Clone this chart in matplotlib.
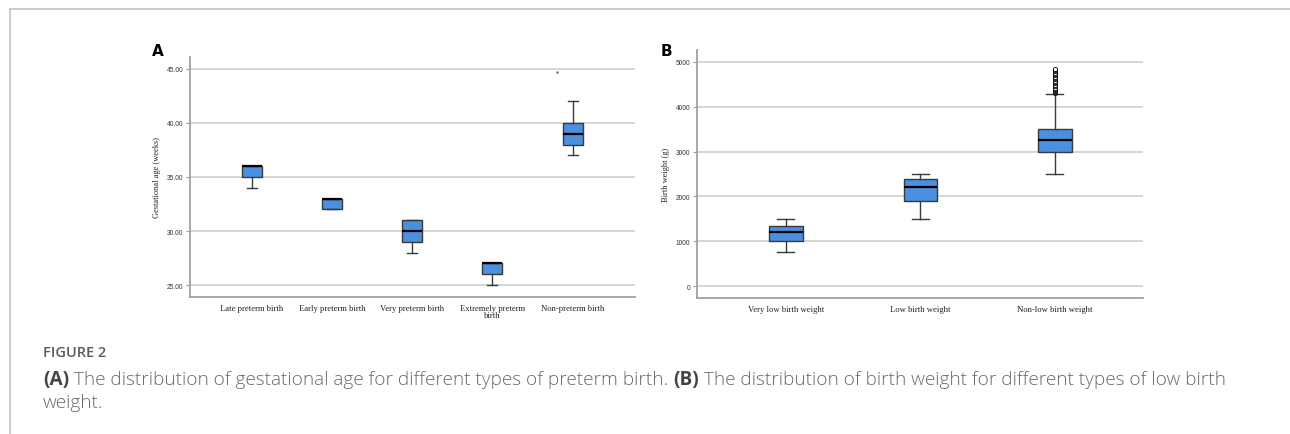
import matplotlib.pyplot as plt

# Panel A: gestational age (weeks)
ga_groups = ['Late preterm birth', 'Early preterm birth', 'Very preterm birth',
             'Extremely preterm\nbirth', 'Non-preterm birth']
ga_whislo = [34, 32, 28, 25, 37]
ga_q1 = [35, 32, 29, 26, 38]
ga_med = [36, 33, 30, 27, 39]
ga_q3 = [36, 33, 31, 27, 40]
ga_whishi = [36, 33, 31, 27, 42]
ga_stray = 44.7
ga_ticks = [25, 30, 35, 40, 45]

# Panel B: birth weight (g)
bw_groups = ['Very low birth weight', 'Low birth weight', 'Non-low birth weight']
bw_whislo = [750, 1500, 2500]
bw_q1 = [1000, 1900, 3000]
bw_med = [1200, 2200, 3250]
bw_q3 = [1350, 2380, 3510]
bw_whishi = [1500, 2500, 4290]
bw_fliers = [[], [], [4300, 4320, 4340, 4360, 4380, 4400, 4430, 4460, 4490, 4520,
                      4550, 4580, 4610, 4640, 4670, 4700, 4730, 4760, 4790, 4820, 4850]]
bw_ticks = [0, 1000, 2000, 3000, 4000, 5000]

BOX = '#4a8fe0'
EDGE = '#3a3a3a'
GRID = '#d2d2d2'
SPINE = '#a0a0a0'
SERIF = 'Liberation Serif'
SANS = 'Liberation Sans'


def make_stats(lo, q1, med, q3, hi, fliers=None):
    stats = []
    for i in range(len(lo)):
        stats.append({'whislo': lo[i], 'q1': q1[i], 'med': med[i], 'q3': q3[i],
                      'whishi': hi[i], 'fliers': fliers[i] if fliers else []})
    return stats


def style_axes(ax, ticks, fmt, labels, ylabel):
    ax.set_yticks(ticks)
    ax.set_yticklabels([fmt.format(t) for t in ticks], fontsize=4.8,
                       family=SANS, color='#333333')
    ax.set_xticks(range(len(labels)))
    ax.set_xticklabels(labels, fontsize=6.2, family=SERIF, color='#222222',
                       linespacing=0.9)
    ax.tick_params(axis='x', length=0, pad=5)
    ax.tick_params(axis='y', length=3, width=0.8, color=SPINE, pad=2)
    ax.yaxis.grid(True, color=GRID, linewidth=1.3)
    ax.set_axisbelow(True)
    for s in ['top', 'right']:
        ax.spines[s].set_visible(False)
    for s in ['left', 'bottom']:
        ax.spines[s].set_color(SPINE)
        ax.spines[s].set_linewidth(1.3)
    ax.set_ylabel(ylabel, fontsize=6, family=SERIF, color='#222222', labelpad=4)


def draw_boxes(ax, stats):
    ax.bxp(stats, positions=range(len(stats)), widths=0.25, capwidths=0.125,
           patch_artist=True, showfliers=True,
           boxprops=dict(facecolor=BOX, edgecolor=EDGE, linewidth=1.0),
           medianprops=dict(color='black', linewidth=1.6),
           whiskerprops=dict(color=EDGE, linewidth=1.0),
           capprops=dict(color=EDGE, linewidth=1.0),
           flierprops=dict(marker='o', markersize=3.0, markerfacecolor='white',
                           markeredgecolor='black', markeredgewidth=0.6))


fig = plt.figure(figsize=(12.9, 4.35), dpi=100)

# frame lines
fig.add_artist(plt.Line2D([10 / 1290, 10 / 1290], [0, 1 - 10 / 435],
                          transform=fig.transFigure, color='#c4c4c4', linewidth=1.2))
fig.add_artist(plt.Line2D([10 / 1290, 1], [1 - 10 / 435, 1 - 10 / 435],
                          transform=fig.transFigure, color='#c4c4c4', linewidth=1.2))

axA = fig.add_axes([190 / 1290, 1 - 298 / 435, 445 / 1290, 240 / 435])
draw_boxes(axA, make_stats(ga_whislo, ga_q1, ga_med, ga_q3, ga_whishi))
axA.scatter([len(ga_groups) - 1 - 0.19], [ga_stray], s=0.5, color='#666666')
axA.set_xlim(-0.775, 4.78)
axA.set_ylim(23.9, 46.1)
style_axes(axA, ga_ticks, '{:.2f}', ga_groups, 'Gestational age (weeks)')

axB = fig.add_axes([697 / 1290, 1 - 299 / 435, 446 / 1290, 248 / 435])
draw_boxes(axB, make_stats(bw_whislo, bw_q1, bw_med, bw_q3, bw_whishi, bw_fliers))
axB.set_xlim(-0.66, 2.655)
axB.set_ylim(-267, 5267)
style_axes(axB, bw_ticks, '{:d}', bw_groups, 'Birth weight (g)')

fig.text(158 / 1290, 1 - 52 / 435, 'A', fontsize=11, fontweight='bold',
         family='DejaVu Sans', ha='center', va='center')
fig.text(666 / 1290, 1 - 52 / 435, 'B', fontsize=11, fontweight='bold',
         family='DejaVu Sans', ha='center', va='center')

# caption
CAP = 13.7
fig.text(43 / 1290, 1 - 353 / 435, 'FIGURE 2', fontsize=10.5, family='Open Sans',
         fontweight='semibold', color='#5a5a5a', va='center')
cap_y1 = 1 - 380 / 435
line1 = [('(A)', True), (' The distribution of gestational age for different types of preterm birth. ', False),
         ('(B)', True), (' The distribution of birth weight for different types of low birth', False)]
fig.canvas.draw()
renderer = fig.canvas.get_renderer()
x = 43 / 1290
for txt, bold in line1:
    tt = fig.text(x, cap_y1, txt, fontsize=CAP, family='Open Sans',
                  fontweight='bold' if bold else 'light',
                  color='#444444' if bold else '#6a6a6a', va='center')
    bb = tt.get_window_extent(renderer=renderer)
    x += bb.width / fig.bbox.width
fig.text(43 / 1290, 1 - 403 / 435, 'weight.', fontsize=CAP, family='Open Sans',
         fontweight='light', color='#6a6a6a', va='center')

fig.savefig('out.png', dpi=100)
